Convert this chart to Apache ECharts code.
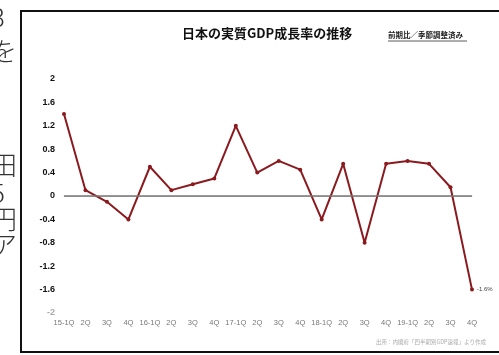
<!DOCTYPE html>
<html><head><meta charset="utf-8">
<script src="https://cdn.jsdelivr.net/npm/echarts@6/dist/echarts.min.js"></script>
<style>html,body{margin:0;padding:0;background:#fff}#c{width:499px;height:355px}</style>
</head><body><div id="c"></div>
<script>
const categories = ["15-1Q","2Q","3Q","4Q","16-1Q","2Q","3Q","4Q","17-1Q","2Q","3Q","4Q","18-1Q","2Q","3Q","4Q","19-1Q","2Q","3Q","4Q"];
const growth = [1.4,0.1,-0.1,-0.4,0.5,0.1,0.2,0.3,1.2,0.4,0.6,0.45,-0.4,0.55,-0.8,0.55,0.6,0.55,0.15,-1.6];
const yTicks = {min:-2, max:2, step:0.4};
const sideText = ["3","を","田","5","円","ア"];

const chart = echarts.init(document.getElementById('c'), null, {renderer:'canvas'});
const sideY = [4,38,152,180,206,232];
const graphics = sideText.map((t,i)=>({type:'text', left:-9, top:sideY[i], style:{text:t, font:'300 26px "Noto Sans CJK JP"', fill:'#333'}}));
graphics.push({type:'rect', shape:{x:21,y:11,width:600,height:341}, style:{fill:'none', stroke:'#111', lineWidth:2}});
graphics.push({type:'text', left:182, top:27, style:{text:'日本の実質GDP成長率の推移', font:'bold 13px "Noto Sans CJK JP"', fill:'#111'}});
graphics.push({type:'text', left:388, top:31, style:{text:'前期比／季節調整済み', font:'bold 7.5px "Noto Sans CJK JP"', fill:'#222'}});
graphics.push({type:'line', shape:{x1:388,y1:41,x2:467,y2:41}, style:{stroke:'#333', lineWidth:0.8}});
graphics.push({type:'text', left:376, top:339, style:{text:'出所：内閣府「四半期別GDP速報」より作成', font:'5.5px "Noto Sans CJK JP"', fill:'#aaa'}});

chart.setOption({
  backgroundColor:'#fff',
  animation:false,
  graphic: graphics,
  grid:{left:64, right:27, top:79, height:234},
  xAxis:{type:'category', data:categories, boundaryGap:false,
    axisLine:{lineStyle:{color:'#ccc', width:1}}, axisTick:{show:false},
    axisLabel:{color:'#777', fontSize:7.5, margin:6, interval:0, fontFamily:'Liberation Sans'}},
  yAxis:{type:'value', min:yTicks.min, max:yTicks.max, interval:yTicks.step,
    axisLine:{show:false}, axisTick:{show:false}, splitLine:{show:false},
    axisLabel:{margin:9, fontSize:9, fontWeight:'bold', color:'#111', fontFamily:'Liberation Sans',
      formatter:v=>{const s=String(Math.round(v*10)/10); return v<=-1.99?'{f|'+s+'}':s;},
      rich:{f:{color:'#aaa', fontSize:9, fontWeight:'bold'}}}},
  series:[{type:'line', data:growth, symbol:'circle', symbolSize:4,
    lineStyle:{color:'#8b1a1f', width:2}, itemStyle:{color:'#8b1a1f'},
    label:{show:true, position:'right', distance:3, fontSize:6, color:'#444',
      formatter:p=>p.dataIndex===growth.length-1?p.value+'%':''},
    markLine:{silent:true, symbol:'none', label:{show:false},
      lineStyle:{color:'#777', type:'solid', width:1.5}, data:[{yAxis:0}]},
    z:3}]
});
</script></body></html>
